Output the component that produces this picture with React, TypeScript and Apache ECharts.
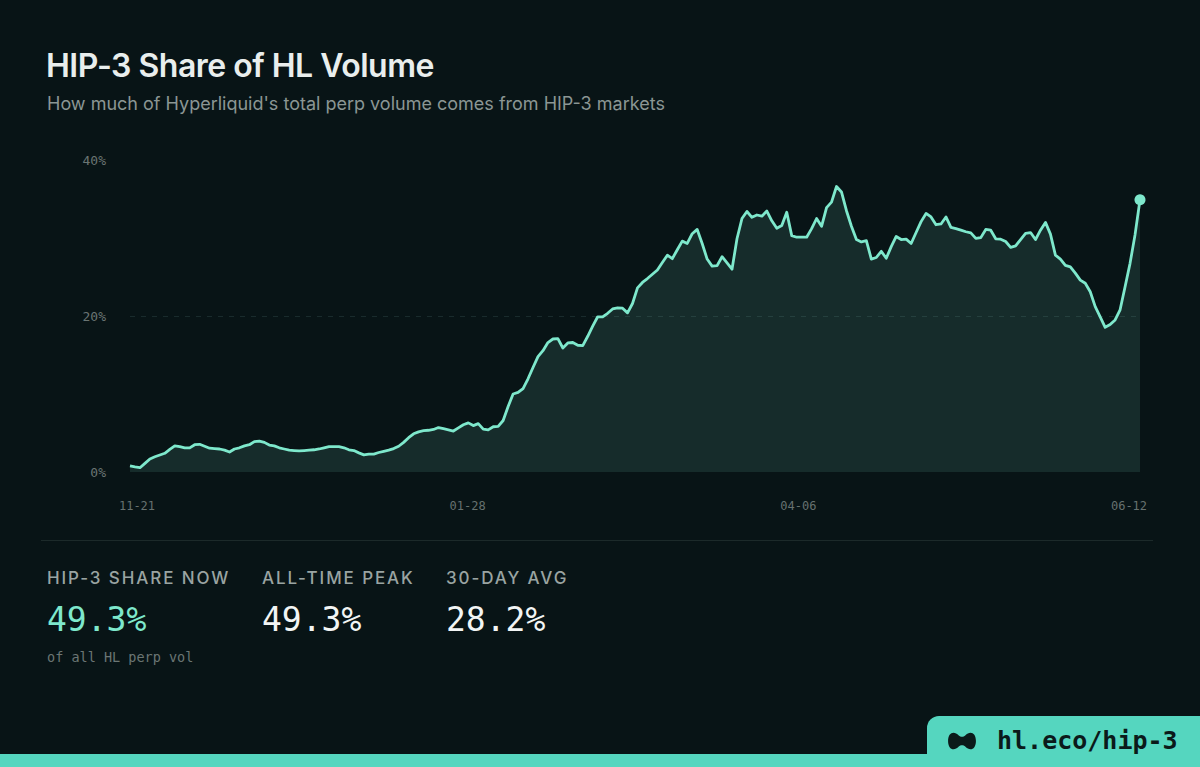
import React, { useEffect, useRef } from "react";
import * as echarts from "echarts";

// ---- data ----
const START_DATE = "2025-11-21";
const SHARE: number[] = [
  0.77, 0.65, 0.55, 1.1, 1.67, 1.95, 2.18, 2.4, 2.9, 3.35,
  3.25, 3.1, 3.1, 3.5, 3.55, 3.3, 3.05, 3.0, 2.95, 2.8,
  2.56, 2.95, 3.1, 3.35, 3.5, 3.9, 3.97, 3.8, 3.45, 3.35,
  3.1, 2.95, 2.8, 2.75, 2.7, 2.75, 2.8, 2.85, 2.95, 3.1,
  3.25, 3.25, 3.25, 3.1, 2.85, 2.75, 2.45, 2.2, 2.3, 2.3,
  2.5, 2.65, 2.8, 3.0, 3.3, 3.8, 4.4, 4.9, 5.15, 5.3,
  5.35, 5.45, 5.7, 5.55, 5.4, 5.25, 5.65, 6.05, 6.3, 5.95,
  6.2, 5.5, 5.4, 5.8, 5.85, 6.6, 8.4, 10.0, 10.2, 10.7,
  11.95, 13.4, 14.8, 15.55, 16.6, 17.05, 17.1, 15.9, 16.55, 16.6,
  16.25, 16.2, 17.4, 18.7, 19.9, 19.9, 20.35, 20.9, 21.05, 21.0,
  20.4, 21.6, 23.6, 24.3, 24.8, 25.35, 25.9, 26.85, 27.8, 27.35,
  28.5, 29.6, 29.3, 30.55, 31.1, 29.3, 27.3, 26.4, 26.45, 27.6,
  26.8, 26.0, 29.9, 32.5, 33.4, 32.65, 32.95, 32.8, 33.45, 32.2,
  31.25, 31.6, 33.3, 30.3, 30.1, 30.1, 30.1, 31.2, 32.5, 31.5,
  33.9, 34.6, 36.6, 35.9, 33.5, 31.5, 29.8, 29.5, 29.65, 27.3,
  27.5, 28.3, 27.4, 28.9, 30.2, 29.8, 29.85, 29.3, 30.7, 32.1,
  33.15, 32.7, 31.7, 31.8, 32.7, 31.35, 31.2, 31.0, 30.8, 30.65,
  29.95, 30.05, 31.1, 31.0, 29.9, 29.85, 29.55, 28.8, 29.0, 29.8,
  30.6, 30.7, 29.8, 31.0, 32.0, 30.5, 27.8, 27.3, 26.5, 26.3,
  25.5, 24.6, 24.2, 23.1, 21.2, 19.9, 18.55, 18.9, 19.5, 20.8,
  23.75, 26.75, 30.4, 34.9,
];
const X_TICK_LABELS = ["11-21", "01-28", "04-06", "06-12"];
const Y_MIN = 0;
const Y_MAX = 40;
const Y_STEP = 20;

const STAT_LABELS = ["HIP-3 SHARE NOW", "ALL-TIME PEAK", "30-DAY AVG"];
const STAT_VALUES = ["49.3%", "49.3%", "28.2%"];
const STAT_NOTE = "of all HL perp vol";

const TITLE = "HIP-3 Share of HL Volume";
const SUBTITLE = "How much of Hyperliquid's total perp volume comes from HIP-3 markets";
const FOOTER = "hl.eco/hip-3";

// ---- styles ----
const BG = "#081416";
const MINT = "#7ee8cc";
const TAB = "#55d6bf";
const SANS = "Inter, 'Noto Sans', sans-serif";
const MONO = "'DejaVu Sans Mono', 'Liberation Mono', monospace";

function buildDates(start: string, n: number): string[] {
  const out: string[] = [];
  const d0 = new Date(start + "T00:00:00Z");
  for (let i = 0; i < n; i++) {
    const d = new Date(d0.getTime() + i * 86400000);
    const mm = String(d.getUTCMonth() + 1).padStart(2, "0");
    const dd = String(d.getUTCDate()).padStart(2, "0");
    out.push(`${d.getUTCFullYear()}-${mm}-${dd}`);
  }
  return out;
}

function Chart() {
  const ref = useRef<HTMLDivElement>(null);
  useEffect(() => {
    if (!ref.current) return;
    const chart = echarts.init(ref.current, undefined, { renderer: "svg" });
    const dates = buildDates(START_DATE, SHARE.length);
    const lastIdx = SHARE.length - 1;
    const seriesData = SHARE.map((v, i) =>
      i === lastIdx
        ? { value: v, symbol: "circle", symbolSize: 11, itemStyle: { color: MINT } }
        : { value: v, symbol: "none" }
    );
    chart.setOption({
      animation: false,
      backgroundColor: "transparent",
      grid: [
        { left: 130, right: 60, top: 160, bottom: 295 },
        { left: 137, right: 71, top: 490, height: 10 },
      ],
      xAxis: [
        {
          type: "category",
          gridIndex: 0,
          data: dates,
          boundaryGap: false,
          axisLine: { show: false },
          axisTick: { show: false },
          axisLabel: { show: false },
          splitLine: { show: false },
        },
        {
          type: "category",
          gridIndex: 1,
          data: X_TICK_LABELS,
          boundaryGap: false,
          axisLine: { show: false },
          axisTick: { show: false },
          splitLine: { show: false },
          axisLabel: {
            interval: 0,
            margin: 0,
            color: "#66716f",
            fontFamily: MONO,
            fontSize: 12,
          },
        },
      ],
      yAxis: [
        {
          type: "value",
          gridIndex: 0,
          min: Y_MIN,
          max: Y_MAX,
          interval: Y_STEP,
          axisLine: { show: false },
          axisTick: { show: false },
          axisLabel: {
            formatter: "{value}%",
            margin: 24,
            color: "#6a7573",
            fontFamily: MONO,
            fontSize: 13,
          },
          splitLine: {
            show: true,
            lineStyle: {
              type: [5, 6],
              width: 1,
              color: ["rgba(0,0,0,0)", "rgba(120,170,160,0.16)", "rgba(0,0,0,0)"],
            },
          },
        },
        { type: "value", gridIndex: 1, show: false },
      ],
      series: [
        {
          type: "line",
          xAxisIndex: 0,
          yAxisIndex: 0,
          data: seriesData,
          showSymbol: true,
          showAllSymbol: true,
          smooth: false,
          lineStyle: { color: MINT, width: 2.8, join: "round" },
          itemStyle: { color: MINT },
          areaStyle: { color: "rgba(126,233,205,0.17)", origin: "start" },
          silent: true,
        },
      ],
    });
    return () => chart.dispose();
  }, []);
  return <div ref={ref} style={{ position: "absolute", left: 0, top: 0, width: 1200, height: 767 }} />;
}

export default function App() {
  const statX = [47, 262, 446];
  return (
    <div
      style={{
        position: "fixed",
        left: 0,
        top: 0,
        width: 1200,
        height: 767,
        overflow: "hidden",
        background: BG,
        fontFamily: SANS,
      }}
    >
      <Chart />
      <div
        style={{
          position: "absolute",
          left: 46,
          top: 47,
          fontSize: 32,
          lineHeight: "38px",
          fontWeight: 600,
          letterSpacing: -0.5,
          color: "#e9eeed",
          whiteSpace: "nowrap",
        }}
      >
        {TITLE}
      </div>
      <div
        style={{
          position: "absolute",
          left: 47,
          top: 92,
          fontSize: 18,
          lineHeight: "24px",
          color: "#8b9694",
          whiteSpace: "nowrap",
        }}
      >
        {SUBTITLE}
      </div>
      <div
        style={{
          position: "absolute",
          left: 41,
          top: 540,
          width: 1112,
          height: 1,
          background: "#1c2a2a",
        }}
      />
      {STAT_LABELS.map((label, i) => (
        <div key={"l" + i}>
          <div
            style={{
              position: "absolute",
              left: statX[i],
              top: 567,
              fontSize: 17,
              lineHeight: "22px",
              fontWeight: 500,
              letterSpacing: 1.9,
              color: "#9aa4a2",
              whiteSpace: "nowrap",
            }}
          >
            {label}
          </div>
          <div
            style={{
              position: "absolute",
              left: statX[i],
              top: 600,
              fontSize: 33,
              lineHeight: "40px",
              fontFamily: MONO,
              color: i === 0 ? MINT : "#f2f5f4",
              whiteSpace: "nowrap",
            }}
          >
            {STAT_VALUES[i]}
          </div>
        </div>
      ))}
      <div
        style={{
          position: "absolute",
          left: 47,
          top: 648,
          fontSize: 13.5,
          lineHeight: "18px",
          fontFamily: MONO,
          color: "#6b7674",
        }}
      >
        {STAT_NOTE}
      </div>
      <div
        style={{
          position: "absolute",
          left: 0,
          top: 754,
          width: 1200,
          height: 13,
          background: TAB,
        }}
      />
      <div
        style={{
          position: "absolute",
          left: 927,
          top: 716,
          width: 273,
          height: 51,
          background: TAB,
          borderTopLeftRadius: 12,
        }}
      >
        <svg
          width="30"
          height="22"
          viewBox="0 0 28 20"
          style={{ position: "absolute", left: 20, top: 14 }}
        >
          <path
            d="M1,10 C1,2 6.5,0 11,4.8 C12.6,6.4 15.4,6.4 17,4.8 C21.5,0 27,2 27,10 C27,18 21.5,20 17,15.2 C15.4,13.6 12.6,13.6 11,15.2 C6.5,20 1,18 1,10 Z"
            fill="#0b1a1a"
          />
        </svg>
        <div
          style={{
            position: "absolute",
            left: 70,
            top: 10,
            fontSize: 25,
            lineHeight: "30px",
            fontFamily: MONO,
            fontWeight: 700,
            color: "#0b1a1a",
            whiteSpace: "nowrap",
          }}
        >
          {FOOTER}
        </div>
      </div>
    </div>
  );
}
